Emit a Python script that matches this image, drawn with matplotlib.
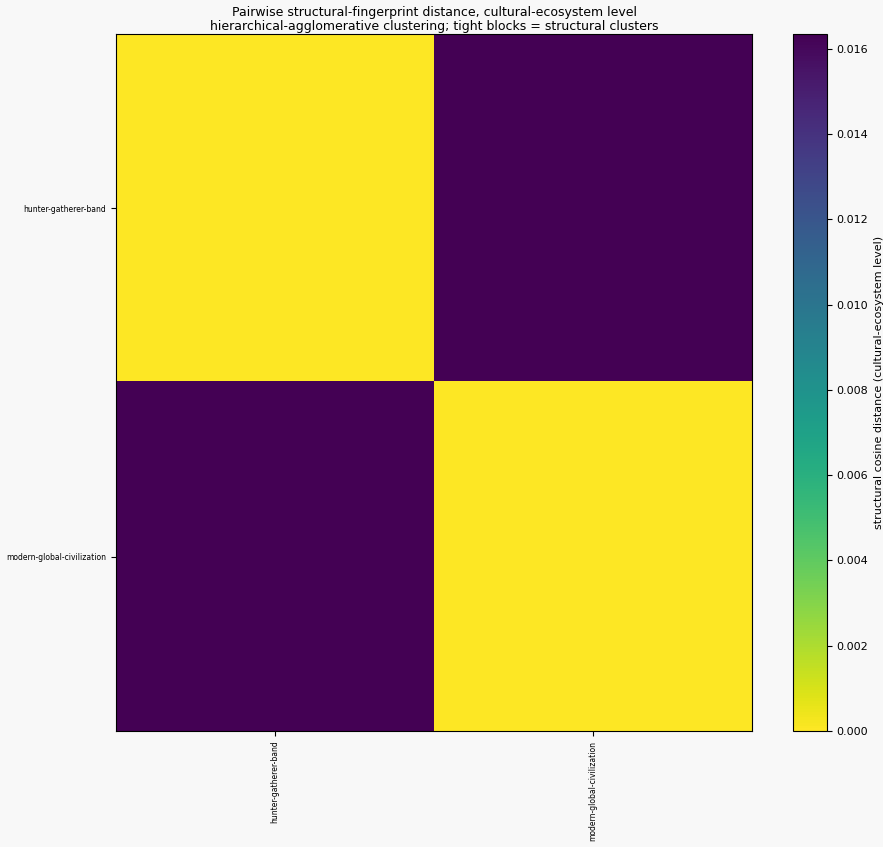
import numpy as np
import matplotlib
matplotlib.use('Agg')
import matplotlib.pyplot as plt

# data
labels = ['hunter-gatherer-band', 'modern-global-civilization']
dist = np.array([[0.0, 0.01635],
                 [0.01635, 0.0]])

fig = plt.figure(figsize=(8.83, 8.47), dpi=100, facecolor='#f8f8f8')
ax = fig.add_axes([116 / 883, 1 - 731 / 847, 636 / 883, 697 / 847])
cax = fig.add_axes([793 / 883, 1 - 731 / 847, 34 / 883, 697 / 847])

im = ax.imshow(dist, cmap='viridis_r', aspect='auto', interpolation='nearest',
               vmin=0, vmax=dist.max())
ax.set_xticks(range(len(labels)))
ax.set_xticklabels(labels, rotation=90, fontsize=5.5)
ax.set_yticks(range(len(labels)))
ax.set_yticklabels(labels, fontsize=5.5)
ax.set_title('Pairwise structural-fingerprint distance, cultural-ecosystem level\n'
             'hierarchical-agglomerative clustering; tight blocks = structural clusters',
             fontsize=9, pad=3, linespacing=1.1)

cb = fig.colorbar(im, cax=cax)
cb.set_label('structural cosine distance (cultural-ecosystem level)', fontsize=8)
cb.ax.tick_params(labelsize=8)
cb.set_ticks([0, 0.002, 0.004, 0.006, 0.008, 0.010, 0.012, 0.014, 0.016])

fig.savefig('out.png', dpi=100, facecolor=fig.get_facecolor())
